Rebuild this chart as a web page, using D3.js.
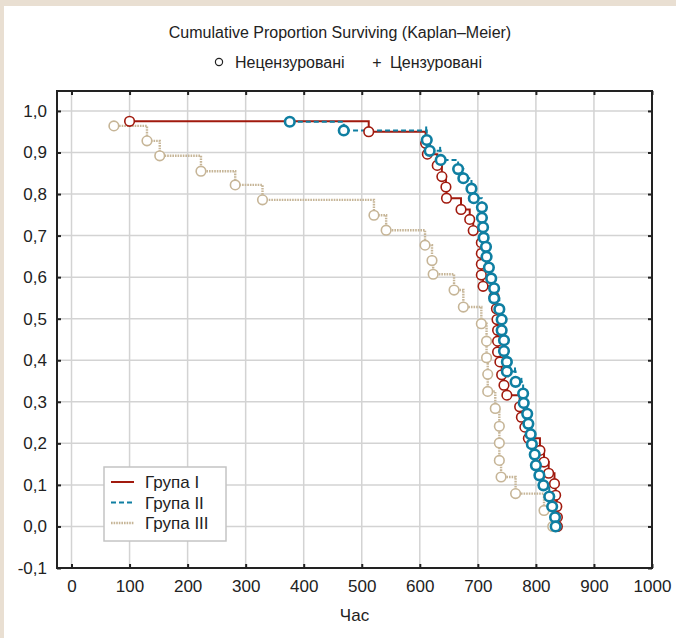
<!DOCTYPE html>
<html><head><meta charset="utf-8">
<script src="https://cdn.jsdelivr.net/npm/d3@7"></script>
<style>
html,body{margin:0;padding:0;background:#fff;}
svg{display:block;}
text{font-family:"Liberation Sans Narrow","Arial Narrow","Liberation Sans",Arial,sans-serif;fill:#222;}
</style></head>
<body><svg id="c" width="676" height="638"></svg>
<script>
const title = "Cumulative Proportion Surviving (Kaplan–Meier)";
const markLabels = ["Нецензуровані", "Цензуровані"];
const xLabel = "Час";
const groupNames = ["Група I", "Група II", "Група III"];
const xTicks = [0,100,200,300,400,500,600,700,800,900,1000];
const yTicks = [-0.1,0,0.1,0.2,0.3,0.4,0.5,0.6,0.7,0.8,0.9,1.0];

// Group I: event times and survival proportion after each event
const timeI = [100,512,610,613,630,638,645,646,671,686,692,706,706,706,706,709,728,732,733,734,734,734,738,741,745,750,772,775,781,787,807,814,822,832,834,836,837,837];
const survI = [0.975,0.950,0.922,0.896,0.869,0.842,0.817,0.790,0.763,0.739,0.712,0.683,0.657,0.631,0.605,0.578,0.553,0.524,0.498,0.472,0.446,0.420,0.396,0.365,0.340,0.316,0.288,0.263,0.239,0.212,0.183,0.155,0.128,0.103,0.075,0.048,0.022,0.0];
// Group II
const timeII = [376,469,612,617,636,666,675,689,693,707,707,709,710,714,715,719,723,728,728,737,741,741,745,745,750,750,765,778,779,785,787,791,793,798,800,806,813,823,828,833,834];
const survII = [0.974,0.953,0.930,0.904,0.882,0.860,0.838,0.813,0.790,0.768,0.743,0.720,0.695,0.673,0.649,0.623,0.597,0.573,0.549,0.523,0.498,0.472,0.448,0.422,0.396,0.373,0.348,0.320,0.297,0.271,0.247,0.222,0.198,0.173,0.147,0.123,0.099,0.072,0.048,0.022,0.0];
// Group III
const timeIII = [73,130,152,223,282,329,521,542,609,621,623,659,675,706,715,715,717,717,730,737,737,737,740,765,814,829];
const survIII = [0.964,0.928,0.892,0.855,0.822,0.786,0.749,0.713,0.677,0.640,0.607,0.569,0.528,0.488,0.446,0.406,0.366,0.325,0.284,0.241,0.201,0.159,0.119,0.079,0.0385,0.0];
// censored marks (time, survival)
const censTimeII = [611,635,764,775];
const censSurvII = [0.953,0.904,0.373,0.348];

const svg = d3.select("#c");
// beige frame top/left
svg.append("rect").attr("x",0).attr("y",0).attr("width",676).attr("height",638).attr("fill","#e9dfd2");
svg.append("rect").attr("x",4).attr("y",6).attr("width",672).attr("height",632).attr("fill","#fff");

const L=57, R=652, T=91, B=568;
const x = d3.scaleLinear().domain([-25,1000]).range([L,R]);
const y = d3.scaleLinear().domain([-0.1,1.048]).range([B,T]);

// grid
const g = svg.append("g");
g.selectAll("line.vg").data(xTicks).enter().append("line")
  .attr("x1",d=>x(d)).attr("x2",d=>x(d)).attr("y1",T).attr("y2",B)
  .attr("stroke","#d3d3d3").attr("stroke-width",1.5);
g.selectAll("line.hg").data(yTicks).enter().append("line")
  .attr("y1",d=>y(d)).attr("y2",d=>y(d)).attr("x1",L).attr("x2",R)
  .attr("stroke","#d3d3d3").attr("stroke-width",1.5);

// axes with inward ticks
const fmt = d => d3.format(".1f")(d).replace(".",",").replace("−","-");
const axB = svg.append("g").attr("transform",`translate(0,${B})`)
  .call(d3.axisBottom(x).tickValues(xTicks).tickSizeInner(-4).tickSizeOuter(0).tickPadding(12).tickFormat(d3.format("d")));
const axT = svg.append("g").attr("transform",`translate(0,${T})`)
  .call(d3.axisTop(x).tickValues(xTicks).tickSizeInner(-4).tickSizeOuter(0).tickFormat(""));
const axL = svg.append("g").attr("transform",`translate(${L},0)`)
  .call(d3.axisLeft(y).tickValues(yTicks).tickSizeInner(-4).tickSizeOuter(0).tickPadding(10).tickFormat(fmt));
const axR = svg.append("g").attr("transform",`translate(${R},0)`)
  .call(d3.axisRight(y).tickValues(yTicks).tickSizeInner(-4).tickSizeOuter(0).tickFormat(""));
[axB,axT,axL,axR].forEach(a=>{
  a.select(".domain").remove();
  a.selectAll(".tick line").attr("stroke","#222").attr("stroke-width",2);
  a.selectAll("text").style("font-size","17px").attr("fill","#222");
});
svg.append("rect").attr("x",L).attr("y",T).attr("width",R-L).attr("height",B-T)
  .attr("fill","none").attr("stroke","#222").attr("stroke-width",2);

// series
const series = [
  {t:timeI, s:survI, color:"#a11a0e", dash:null, w:2, cw:1.6},
  {t:timeII, s:survII, color:"#0f7fa2", dash:"5,3", w:2, cw:2.6},
  {t:timeIII, s:survIII, color:"#c6b597", dash:"1.6,1", w:2.4, cw:1.6}
];
const line = d3.line().x(d=>x(d[0])).y(d=>y(d[1])).curve(d3.curveStepAfter);
const drawOrder = [2,0,1];
drawOrder.forEach(i=>{
  const s = series[i];
  const pts = s.t.map((t,k)=>[t,s.s[k]]);
  svg.append("path").attr("d",line(pts)).attr("fill","none")
    .attr("stroke",s.color).attr("stroke-width",s.w).attr("stroke-dasharray",s.dash);
});
drawOrder.forEach(i=>{
  const s = series[i];
  const pts = s.t.map((t,k)=>[t,s.s[k]]);
  svg.append("g").selectAll("circle").data(pts).enter().append("circle")
    .attr("cx",d=>x(d[0])).attr("cy",d=>y(d[1])).attr("r",4.8)
    .attr("fill","#fff").attr("stroke",s.color).attr("stroke-width",s.cw);
});
// censored ticks
svg.append("g").selectAll("line").data(censTimeII.map((t,k)=>[t,censSurvII[k]])).enter().append("line")
  .attr("x1",d=>x(d[0])).attr("x2",d=>x(d[0])).attr("y1",d=>y(d[1])-4).attr("y2",d=>y(d[1])+1)
  .attr("stroke","#0f7fa2").attr("stroke-width",2);

// titles
svg.append("text").attr("x",340).attr("y",38).attr("text-anchor","middle").style("font-size","16px").text(title);
svg.append("circle").attr("cx",219).attr("cy",62).attr("r",3.6).attr("fill","none").attr("stroke","#222").attr("stroke-width",1.2);
svg.append("text").attr("x",235).attr("y",68).style("font-size","16px").text(markLabels[0]);
svg.append("text").attr("x",377).attr("y",68).attr("text-anchor","middle").style("font-size","16px").text("+");
svg.append("text").attr("x",390).attr("y",68).style("font-size","16px").text(markLabels[1]);
svg.append("text").attr("x",(L+R)/2).attr("y",621).attr("text-anchor","middle").style("font-size","17px").text(xLabel);

// legend
const lg = svg.append("g");
lg.append("rect").attr("x",104).attr("y",467).attr("width",122).attr("height",74)
  .attr("fill","#fff").attr("stroke","#c4c4c4").attr("stroke-width",1.5);
groupNames.forEach((n,i)=>{
  const yy = 482 + i*20.5;
  lg.append("line").attr("x1",111).attr("x2",134).attr("y1",yy).attr("y2",yy)
    .attr("stroke",series[i].color).attr("stroke-width",series[i].w).attr("stroke-dasharray",series[i].dash);
  lg.append("text").attr("x",145).attr("y",yy+6).style("font-size","17px").text(n);
});
</script></body></html>
